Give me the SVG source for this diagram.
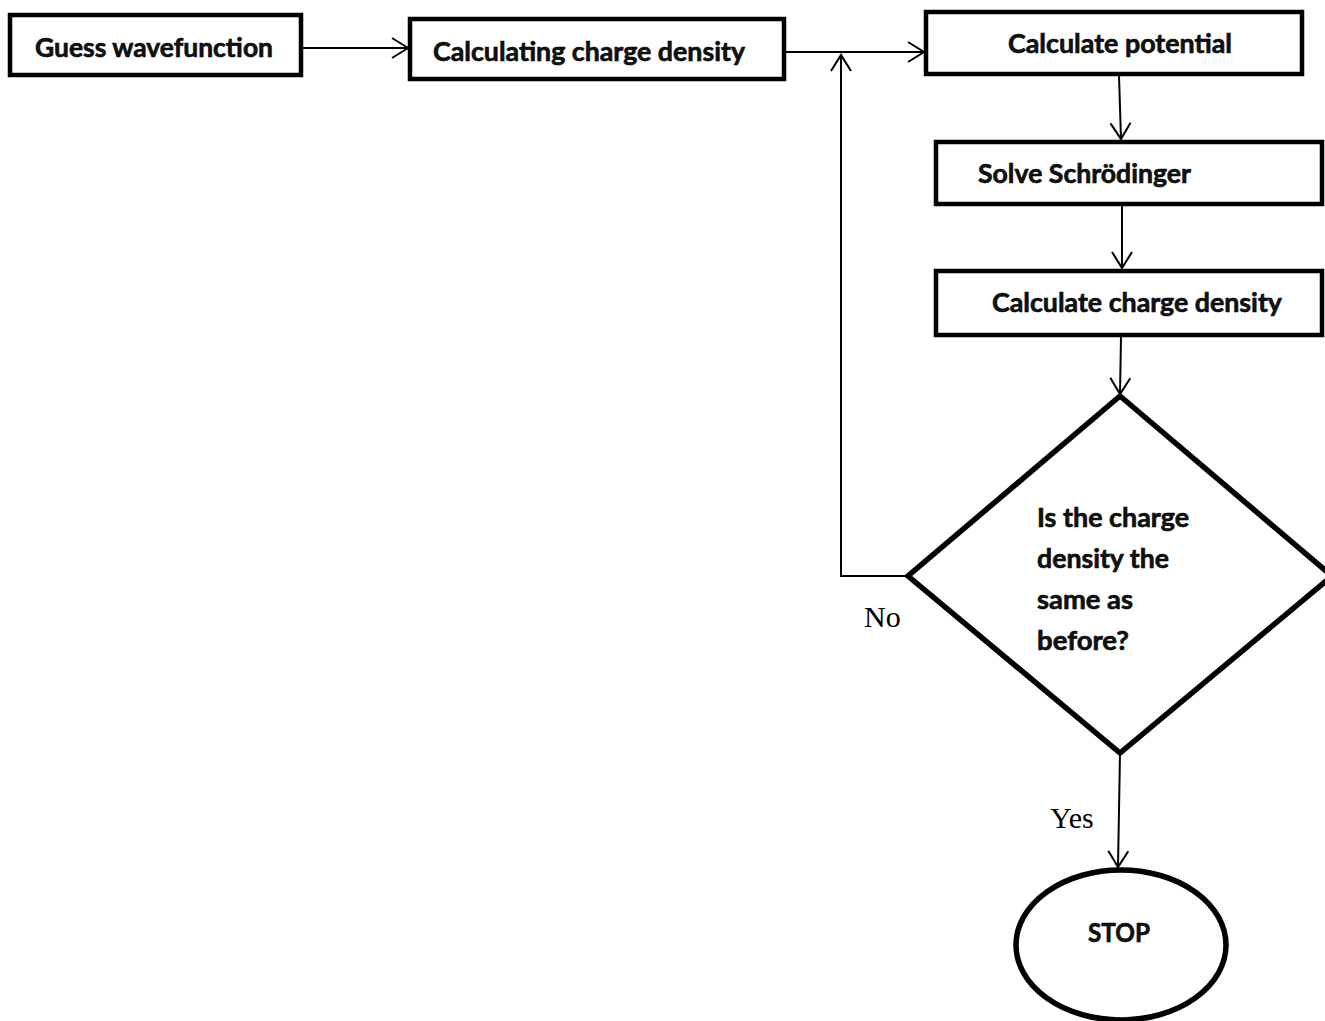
<svg xmlns="http://www.w3.org/2000/svg" width="1325" height="1021" viewBox="0 0 1325 1021">
<style>
.box{fill:#fff;stroke:#000;stroke-width:4.5}
.thick{stroke-width:5.5}
.t{font-family:Lato,"Open Sans","Liberation Sans",sans-serif;font-weight:bold;font-size:27px;fill:#111;stroke:#000;stroke-width:0.6}
.lbl{font-family:"Liberation Serif","Times New Roman",serif;font-size:30px;fill:#000}
.c{fill:none;stroke:#000;stroke-width:2}
</style>
<defs>
<marker id="arr" markerUnits="userSpaceOnUse" markerWidth="24" markerHeight="24" viewBox="-20 -12 24 24" refX="0" refY="0" orient="auto">
<path d="M-16,-10 L0,0 L-16,10" fill="none" stroke="#000" stroke-width="2"/>
</marker>
</defs>
<rect width="1325" height="1021" fill="#fff"/>
<g id="connectors">
<line class="c" x1="302" y1="48" x2="408" y2="48" marker-end="url(#arr)"/>
<line class="c" x1="784" y1="52" x2="924" y2="52" marker-end="url(#arr)"/>
<line class="c" x1="1119" y1="76" x2="1121" y2="139" marker-end="url(#arr)"/>
<line class="c" x1="1122" y1="206" x2="1122" y2="268" marker-end="url(#arr)"/>
<line class="c" x1="1121" y1="337" x2="1120" y2="394" marker-end="url(#arr)"/>
<polyline class="c" points="908,576 841,576 841,55" marker-end="url(#arr)"/>
<line class="c" x1="1120" y1="753" x2="1118" y2="867" marker-end="url(#arr)"/>
</g>
<g id="guess">
<rect class="box" x="10" y="15" width="291" height="60"/>
<text class="t" x="35" y="57" textLength="238" lengthAdjust="spacingAndGlyphs">Guess wavefunction</text>
</g>
<g id="calc-charge-1">
<rect class="box" x="410" y="19" width="374" height="60"/>
<text class="t" x="433" y="61" textLength="312" lengthAdjust="spacingAndGlyphs">Calculating charge density</text>
</g>
<g id="calc-potential">
<rect class="box" x="926" y="12" width="376" height="62"/>
<text class="t" x="1008" y="53" textLength="224" lengthAdjust="spacingAndGlyphs">Calculate potential</text>
</g>
<g id="solve">
<rect class="box" x="936" y="142" width="386" height="62"/>
<text class="t" x="978" y="183" textLength="213" lengthAdjust="spacingAndGlyphs">Solve Schrödinger</text>
</g>
<g id="calc-charge-2">
<rect class="box" x="936" y="271" width="386" height="64"/>
<text class="t" x="992" y="312" textLength="290" lengthAdjust="spacingAndGlyphs">Calculate charge density</text>
</g>
<g id="decision">
<polygon class="box thick" points="1120,396 1332,576 1120,753 908,576"/>
<text class="t" x="1037" y="527" textLength="152" lengthAdjust="spacingAndGlyphs">Is the charge</text>
<text class="t" x="1037" y="568" textLength="132" lengthAdjust="spacingAndGlyphs">density the</text>
<text class="t" x="1037" y="609" textLength="96" lengthAdjust="spacingAndGlyphs">same as</text>
<text class="t" x="1037" y="650" textLength="92" lengthAdjust="spacingAndGlyphs">before?</text>
</g>
<g id="stop">
<ellipse class="box thick" cx="1121" cy="945" rx="105" ry="75"/>
<text class="t" x="1088" y="942" textLength="62" lengthAdjust="spacingAndGlyphs">STOP</text>
</g>
<text class="lbl" x="864" y="627">No</text>
<text class="lbl" x="1050" y="828">Yes</text>
</svg>
